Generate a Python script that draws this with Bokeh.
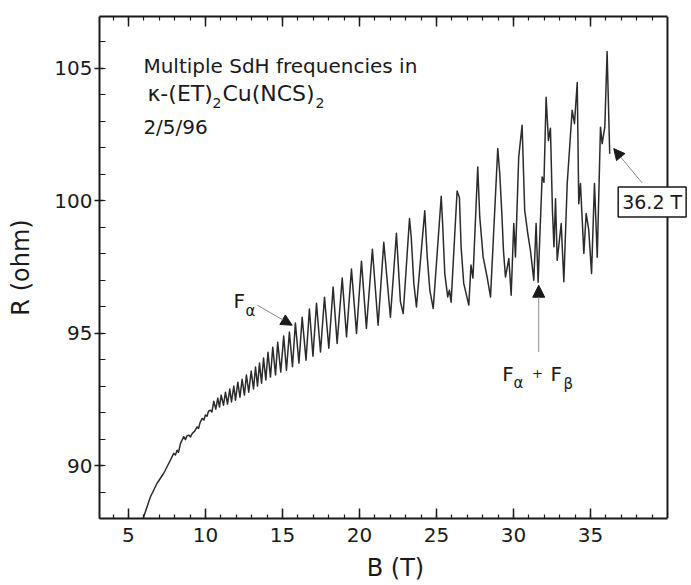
from bokeh.plotting import figure
from bokeh.models import Range1d, LinearAxis, FixedTicker, Label, Arrow, NormalHead, ColumnDataSource, Span
from bokeh.embed import file_html
from bokeh.resources import INLINE

# ---------------- data ----------------
# low-field part (no visible oscillations, small noise)
B_low = [5.85, 5.99, 6.43, 6.86, 7.29, 7.73, 7.94, 8.05, 8.16, 8.25, 8.38, 8.59, 8.70, 8.80,
         8.92, 9.03, 9.14, 9.30, 9.46, 9.55, 9.65, 9.79, 9.90, 10.00, 10.10, 10.20, 10.32, 10.42]
R_low = [87.60, 88.07, 88.82, 89.33, 89.71, 90.21, 90.46, 90.40, 90.58, 90.50, 90.84, 91.09, 90.98, 91.12,
         91.15, 91.08, 91.21, 91.30, 91.46, 91.40, 91.62, 91.78, 91.72, 91.91, 91.86, 92.05, 92.09, 92.02]

# F_alpha oscillations: alternating peaks / troughs
B_mid = [10.54, 10.67, 10.80, 10.91, 11.02, 11.17, 11.30, 11.43, 11.58, 11.69,
         11.84, 11.95, 12.10, 12.24, 12.38, 12.53, 12.66, 12.81, 12.97, 13.12,
         13.25, 13.38, 13.51, 13.64, 13.77, 13.92, 14.06, 14.22, 14.37, 14.55,
         14.69, 14.89, 15.08, 15.26, 15.45, 15.65, 15.84, 16.07, 16.28, 16.53,
         16.75, 16.98, 17.21, 17.47, 17.73, 18.01, 18.29, 18.55, 18.88, 19.16,
         19.48, 19.81, 20.13, 20.45, 20.84, 21.21, 21.58, 22.01]
R_mid = [92.43, 92.13, 92.55, 92.21, 92.66, 92.28, 92.77, 92.32, 92.89, 92.40,
         93.00, 92.47, 93.15, 92.58, 93.26, 92.66, 93.42, 92.77, 93.57, 92.89,
         93.72, 93.00, 93.87, 93.11, 94.06, 93.23, 94.28, 93.34, 94.47, 93.42,
         94.66, 93.53, 94.89, 93.60, 95.04, 93.73, 95.38, 93.87, 95.60, 93.98,
         95.91, 94.13, 96.13, 94.29, 96.36, 94.43, 96.74, 94.61, 97.08, 94.86,
         97.42, 94.99, 97.72, 95.18, 98.17, 95.30, 98.43, 95.60]

# high-field part with beating (F_alpha + F_beta)
B_high = [22.40, 22.66, 22.84, 23.25, 23.36, 23.53, 23.70, 24.24, 24.40, 24.57,
          24.79, 25.31, 25.41, 25.54, 25.73, 25.84, 25.95, 26.34, 26.49, 26.60,
          26.77, 27.10, 27.24, 27.37, 27.68, 27.81, 28.03, 28.29, 28.51, 28.98,
          29.11, 29.25, 29.35, 29.48, 29.70, 29.85, 30.02, 30.13, 30.34, 30.56,
          30.73, 30.93, 31.10, 31.32, 31.47, 31.60, 31.86, 31.98, 32.12, 32.27,
          32.40, 32.53, 32.63, 32.73, 32.84, 33.10, 33.27, 33.49, 33.81, 33.96,
          34.14, 34.24, 34.35, 34.57, 34.72, 34.89, 35.07, 35.26, 35.44, 35.65,
          35.76, 35.93, 36.08, 36.25]
R_high = [98.77, 96.18, 95.74, 99.33, 98.63, 96.88, 95.99, 99.62, 97.88, 96.62,
          95.93, 100.17, 99.01, 97.25, 96.37, 96.62, 96.17, 100.37, 100.12, 98.26,
          96.88, 96.06, 97.57, 97.08, 101.28, 99.39, 97.88, 97.12, 96.37, 101.97,
          101.03, 99.45, 98.13, 97.12, 97.82, 96.43, 99.14, 97.88, 101.65, 102.85,
          99.64, 98.76, 98.13, 97.00, 99.14, 96.92, 100.90, 100.70, 103.91, 102.28,
          102.74, 99.64, 98.26, 100.08, 97.75, 99.14, 96.94, 100.65, 103.42, 102.91,
          104.47, 99.89, 100.65, 98.01, 99.52, 98.89, 97.25, 100.65, 97.87, 102.78,
          102.16, 102.78, 105.64, 101.78]

x_major = [5, 10, 15, 20, 25, 30, 35]
y_major = [90, 95, 100, 105]
x_minor = list(range(4, 40))
y_minor = list(range(88, 108))

x_label = "B (T)"
y_label = "R (ohm)"

# axis extent of the drawn box (the box label spills past the right frame edge)
X_LO, X_HI = 3.12, 40.0
Y_LO, Y_HI = 88.0, 106.96

# ---------------- figure ----------------
FONT = "DejaVu Sans"
INK = "#1a1a1a"

p = figure(width=691, height=585, output_backend="svg", toolbar_location=None,
           x_range=Range1d(X_LO, 41.56), y_range=Range1d(Y_LO, Y_HI),
           min_border_left=99, min_border_right=0, min_border_top=16, min_border_bottom=67)
p.grid.visible = False
p.background_fill_color = "white"
p.border_fill_color = "white"
p.outline_line_color = None

src = ColumnDataSource(dict(B=B_low + B_mid + B_high, R=R_low + R_mid + R_high))
p.line("B", "R", source=src, line_color="#2b2b2b", line_width=1.5, line_join="round")

xt = FixedTicker(ticks=x_major, minor_ticks=x_minor)
yt = FixedTicker(ticks=y_major, minor_ticks=y_minor)

for ax in p.xaxis:
    ax.ticker = xt
    ax.bounds = (X_LO, X_HI)
    ax.axis_label = x_label
    ax.major_tick_in = 10
    ax.major_tick_out = 0
    ax.minor_tick_in = 4
    ax.minor_tick_out = 0
    ax.major_label_standoff = 9
    ax.axis_label_standoff = 9

for ax in p.yaxis:
    ax.ticker = yt
    ax.axis_label = y_label
    ax.major_tick_in = 4
    ax.major_tick_out = 5
    ax.minor_tick_in = 6
    ax.minor_tick_out = 0
    ax.major_label_standoff = 2
    ax.axis_label_standoff = 16

for ax in p.xaxis + p.yaxis:
    ax.axis_line_width = 2
    ax.axis_line_color = INK
    ax.major_tick_line_color = INK
    ax.minor_tick_line_color = INK
    ax.major_tick_line_width = 1.5
    ax.minor_tick_line_width = 1.2
    ax.major_label_text_font = FONT
    ax.major_label_text_font_size = "20px"
    ax.major_label_text_color = INK
    ax.axis_label_text_font = FONT
    ax.axis_label_text_font_size = "24px"
    ax.axis_label_text_font_style = "normal"
    ax.axis_label_text_color = INK

top = LinearAxis(ticker=xt, bounds=(X_LO, X_HI), major_tick_in=10, major_tick_out=0,
                 minor_tick_in=4, minor_tick_out=0,
                 axis_line_width=2, axis_line_color=INK, major_tick_line_color=INK,
                 minor_tick_line_color=INK, major_tick_line_width=1.5, minor_tick_line_width=1.2,
                 major_label_text_font_size="0px", major_label_standoff=0)
p.add_layout(top, "above")

# right edge of the box
p.add_layout(Span(location=X_HI, dimension="height", line_color=INK, line_width=2))


def lab(x, y, text, size="20px", **kw):
    opts = dict(text_font=FONT, text_font_size=size, text_color=INK, text_baseline="alphabetic")
    opts.update(kw)
    p.add_layout(Label(x=x, y=y, text=text, **opts))


# title block
lab(5.97, 105.08, "Multiple SdH frequencies in")
lab(6.23, 104.06, "κ-(ET)", size="22px")
lab(10.45, 103.68, "2", size="14px")
lab(11.10, 104.06, "Cu(NCS)", size="22px")
lab(17.15, 103.68, "2", size="14px")
lab(5.97, 102.77, "2/5/96")

# F_alpha annotation
lab(11.82, 96.20, "F")
lab(12.60, 95.82, "α", size="15px")
p.add_layout(Arrow(end=NormalHead(size=11, fill_color=INK, line_color=INK),
                   x_start=13.36, y_start=96.06, x_end=15.63, y_end=95.30,
                   line_color="#8a8a8a", line_width=1))

# F_alpha + F_beta annotation
lab(29.27, 93.45, "F")
lab(30.00, 93.11, "α", size="15px")
lab(31.56, 93.49, "+", size="13px", text_align="center", text_baseline="middle")
lab(32.40, 93.45, "F")
lab(33.25, 93.08, "β", size="15px")
p.add_layout(Arrow(end=NormalHead(size=12, fill_color=INK, line_color=INK),
                   x_start=31.64, y_start=94.29, x_end=31.64, y_end=96.81,
                   line_color="#9a8a96", line_width=1))

# 36.2 T box
p.add_layout(Label(x=36.80, y=99.955, text="36.2 T", text_font=FONT, text_font_size="19px",
                   text_color=INK, text_baseline="middle", padding=4,
                   border_line_color=INK, border_line_width=1.5, background_fill_color="white"))
p.add_layout(Arrow(end=NormalHead(size=11, fill_color=INK, line_color=INK),
                   x_start=38.36, y_start=100.67, x_end=36.51, y_end=101.97,
                   line_color="#8a8a8a", line_width=1))

open("out.html", "w").write(file_html(p, INLINE))
